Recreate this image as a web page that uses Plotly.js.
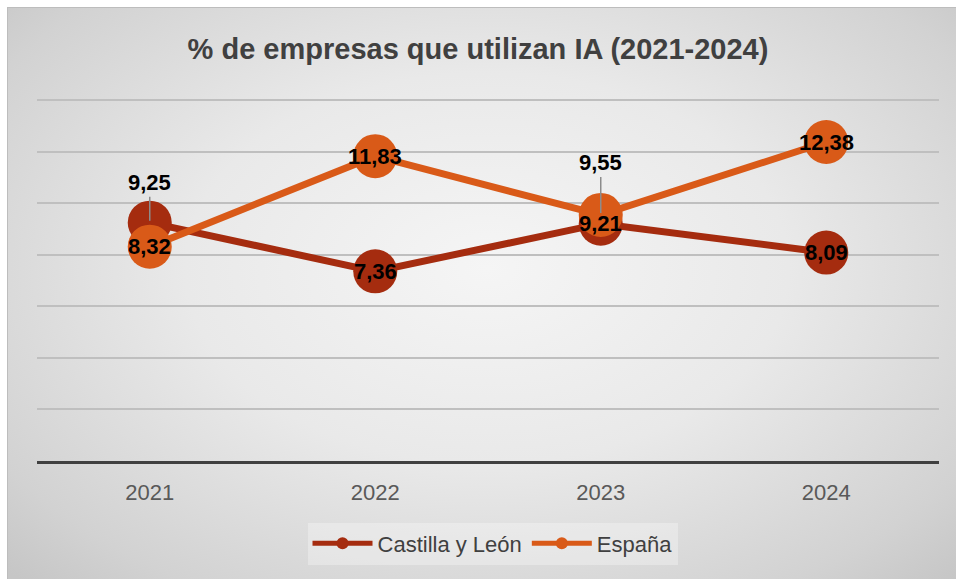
<!DOCTYPE html>
<html>
<head>
<meta charset="utf-8">
<script src="https://cdn.plot.ly/plotly-3.0.1.min.js"></script>
<style>
  html, body { margin: 0; padding: 0; background: #ffffff; }
  #wrap { position: relative; width: 956px; height: 579px; overflow: hidden; }
  #bg { position: absolute; left: 7px; top: 7px; width: 960px; height: 580px;
        border: 1px solid #bdbdbd; box-sizing: border-box;
        background: radial-gradient(ellipse 70% 75% at 50% 45%, #f5f5f5 0%, #e9e9e9 45%, #d2d2d2 85%, #c6c6c6 100%); }
  #chart { position: absolute; left: 0; top: 0; width: 956px; height: 579px; }
</style>
</head>
<body>
<div id="wrap">
  <div id="bg"></div>
  <div id="chart"></div>
</div>
<script>
const years = ['2021', '2022', '2023', '2024'];
const castillaLeon = [9.25, 7.36, 9.21, 8.09];
const espana = [8.32, 11.83, 9.55, 12.38];
const seriesNames = ['Castilla y León', 'España'];

const colors = ['#A52C0F', '#D95A18'];
const allSeries = [castillaLeon, espana];
const FONT = 'Liberation Sans, Arial, sans-serif';

const traces = allSeries.map((vals, s) => ({
  type: 'scatter',
  mode: 'lines+markers',
  name: seriesNames[s],
  x: years,
  y: vals,
  line: { color: colors[s], width: 7 },
  marker: { color: colors[s], size: 44 },
  hoverinfo: 'skip'
}));

// labels lifted above their marker with a leader line (pixel offset)
const lifted = { '0-0': -40, '1-2': -52 };

const fmt = v => v.toFixed(2).replace('.', ',');
const annotations = [];
allSeries.forEach((vals, s) => {
  vals.forEach((v, i) => {
    const key = s + '-' + i;
    const a = {
      x: i, y: v, xref: 'x', yref: 'y',
      text: '<b>' + fmt(v) + '</b>',
      font: { family: FONT, size: 22, color: '#000000' }
    };
    if (lifted[key] !== undefined) {
      a.showarrow = true; a.ax = 0; a.ay = lifted[key];
      a.arrowhead = 0; a.arrowwidth = 1.5; a.arrowcolor = '#8c8c8c'; a.standoff = 2;
    } else {
      a.showarrow = false;
    }
    annotations.push(a);
  });
});

const layout = {
  width: 956, height: 579,
  paper_bgcolor: 'rgba(0,0,0,0)',
  plot_bgcolor: 'rgba(0,0,0,0)',
  margin: { l: 37, r: 17, t: 99, b: 118, pad: 0 },
  separators: ',.',
  title: {
    text: '<b>% de empresas que utilizan IA (2021-2024)</b>',
    font: { family: FONT, size: 29, color: '#404040' },
    x: 0.5, xanchor: 'center', y: 0.915, yanchor: 'middle'
  },
  xaxis: {
    type: 'category',
    range: [-0.5, 3.5],
    showgrid: false, zeroline: false,
    showline: true, linecolor: '#404040', linewidth: 3,
    ticks: 'outside', ticklen: 10, tickcolor: 'rgba(0,0,0,0)',
    tickfont: { family: FONT, size: 22, color: '#595959' },
    fixedrange: true
  },
  yaxis: {
    range: [0, 14.05], dtick: 2,
    showticklabels: false, ticks: '',
    showgrid: true, gridcolor: '#bfbfbf', gridwidth: 2,
    zeroline: false, showline: false,
    fixedrange: true
  },
  showlegend: true,
  legend: {
    orientation: 'h', x: 0.505, xanchor: 'center', y: -0.17, yanchor: 'top',
    bgcolor: 'rgba(255,255,255,0.3)',
    font: { family: FONT, size: 22, color: '#404040' },
    itemsizing: 'constant', itemwidth: 60, tracegroupgap: 0
  },
  annotations: annotations
};

Plotly.newPlot('chart', traces, layout, { displayModeBar: false, staticPlot: true });
</script>
</body>
</html>
